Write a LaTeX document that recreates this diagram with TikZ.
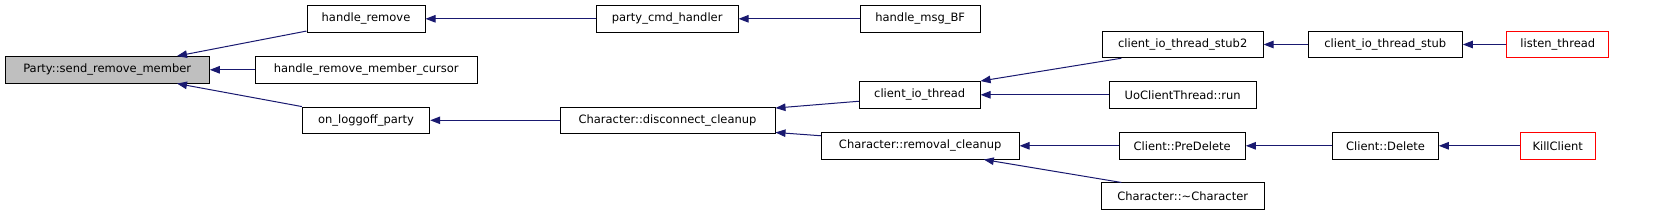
\documentclass[tikz,border=0pt]{standalone}
\usepackage{fontspec}
\setmainfont{DejaVu Sans}
\usetikzlibrary{arrows.meta,calc}
\definecolor{edgeblue}{RGB}{25,25,112}
\definecolor{nodegray}{RGB}{191,191,191}
\tikzset{
  fn/.style={draw=black, line width=1pt, minimum height=26.5pt, inner sep=0pt, font=\fontsize{11.5}{13}\selectfont, text=black},
  redfn/.style={fn, draw=red},
  edge/.style={draw=edgeblue, line width=1pt, -{Triangle[length=10pt,width=7.5pt]}},
}
\begin{document}
\begin{tikzpicture}[x=1pt,y=-1pt]
\useasboundingbox (0,0) rectangle (1653,215);
\node[fn, fill=nodegray, minimum width=204.3pt] (p) at (107.2,69.8) {Party::send\_remove\_member};
\node[fn, minimum width=118pt] (hr) at (366,18.8) {handle\_remove};
\node[fn, minimum width=222.3pt] (hrmc) at (366.2,69.8) {handle\_remove\_member\_cursor};
\node[fn, minimum width=127.4pt] (olp) at (366,120.3) {on\_loggoff\_party};
\node[fn, minimum width=141.7pt] (pch) at (667.2,18.8) {party\_cmd\_handler};
\node[fn, minimum width=119.7pt] (hmbf) at (920.2,18.8) {handle\_msg\_BF};
\node[fn, minimum width=120.7pt] (cit) at (919.7,94.8) {client\_io\_thread};
\node[fn, minimum width=215pt] (cdc) at (667.5,120.3) {Character::disconnect\_cleanup};
\node[fn, minimum width=197.7pt] (crc) at (920.2,145.8) {Character::removal\_cleanup};
\node[fn, minimum width=160.7pt] (cits2) at (1182.7,44.5) {client\_io\_thread\_stub2};
\node[fn, minimum width=154pt] (cits) at (1385.3,44.5) {client\_io\_thread\_stub};
\node[redfn, minimum width=101.7pt] (lt) at (1557.8,44.5) {listen\_thread};
\node[fn, minimum width=147.3pt] (ucr) at (1182.7,94.8) {UoClientThread::run};
\node[fn, minimum width=126.3pt] (cpd) at (1182.2,145.8) {Client::PreDelete};
\node[fn, minimum width=105.6pt] (cd) at (1385.5,145.8) {Client::Delete};
\node[redfn, minimum width=75.3pt] (kc) at (1557.7,145.8) {KillClient};
\node[fn, minimum width=162.7pt] (cch) at (1182.7,196.2) {Character::\char`~Character};

\draw[edge] ([yshift=1.5pt]hr.south west) -- ($(p.north west)!0.84!(p.north east)$);
\draw[edge] (hrmc.west) -- (p.east);
\draw[edge] (olp.north west) -- ($(p.south west)!0.84!(p.south east)$);
\draw[edge] (pch.west) -- (hr.east);
\draw[edge] (hmbf.west) -- (pch.east);
\draw[edge] (cdc.west) -- (olp.east);
\draw[edge] ([yshift=7.3pt]cit.south west) -- ([yshift=-1.5pt]cdc.north east);
\draw[edge] ([yshift=-3.7pt]crc.north west) -- ([yshift=1.6pt]cdc.south east);
\draw[edge] ($(cits2.south west)!0.12!(cits2.south east)$) -- (cit.north east);
\draw[edge] (ucr.west) -- (cit.east);
\draw[edge] (cits.west) -- (cits2.east);
\draw[edge] (lt.west) -- (cits.east);
\draw[edge] (cpd.west) -- (crc.east);
\draw[edge] (cd.west) -- (cpd.east);
\draw[edge] (kc.west) -- (cd.east);
\draw[edge] ($(cch.north west)!0.125!(cch.north east)$) -- ($(crc.south west)!0.82!(crc.south east)$);
\end{tikzpicture}
\end{document}
